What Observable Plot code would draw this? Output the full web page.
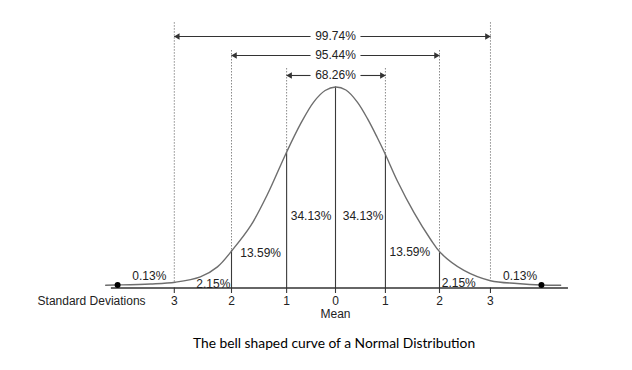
<!DOCTYPE html>
<html><head><meta charset="utf-8">
<script src="https://cdn.jsdelivr.net/npm/d3@7"></script>
<script src="https://cdn.jsdelivr.net/npm/@observablehq/plot@0.6"></script>
<style>
body{margin:0;background:#fff;}
#caption{font-family:Lato, "Open Sans", sans-serif;font-size:13.8px;color:#000;padding-left:193px;height:36px;line-height:36px;white-space:nowrap;}
</style></head><body><div id="chart"></div><div id="caption">The bell shaped curve of a Normal Distribution</div>
<script>
// Bell curve (x in standard deviations, y as density)
const curveX = [-4.42, -4.19, -3.56, -3.08, -2.60, -2.27, -1.99, -1.63, -1.31, -0.95, -0.67, -0.42, -0.20, 0, 0.20, 0.42, 0.62, 0.80, 0.96, 1.19, 1.51, 1.83, 2.02, 2.47, 2.98, 3.49, 3.96, 4.33];
const curveY = [0.0056, 0.006, 0.008, 0.0115, 0.022, 0.042, 0.0746, 0.124, 0.186, 0.2683, 0.327, 0.370, 0.393, 0.40, 0.394, 0.370, 0.336, 0.300, 0.2657, 0.213, 0.150, 0.0965, 0.070, 0.035, 0.0145, 0.009, 0.006, 0.0056];

// Standard deviation marks (as drawn) and their labels
const sdLabels = ["3", "2", "1", "0", "1", "2", "3"];
const sdPos = [-3.1, -2, -0.94, 0, 0.96, 2, 2.98];
const sdCurveY = [0.0115, 0.0746, 0.2683, 0.40, 0.2657, 0.070, 0.0145];

// Cumulative ranges
const rangeLabels = ["68.26%", "95.44%", "99.74%"];
const rangeSd = [1, 2, 3];

// Area percentages per band
const pctLabels = ["0.13%", "2.15%", "13.59%", "34.13%", "34.13%", "13.59%", "2.15%", "0.13%"];
const pctX = [-3.58, -2.35, -1.44, -0.47, 0.53, 1.43, 2.37, 3.55];
const pctY = [0.0235, 0.0084, 0.070, 0.142, 0.142, 0.0706, 0.0103, 0.0235];

// Tail end points and axis extent
const tailDotX = [-4.19, 3.96];
const tailDotY = [0.006, 0.006];
const axisExtent = [-4.31, 4.48];
const axisTitle = "Standard Deviations";
const axisTitleX = -5.73;
const meanLabel = "Mean";

const curve = curveX.map((x, i) => ({x, y: curveY[i]}));
const sds = sdPos.map((x, i) => ({x, label: sdLabels[i], top: sdCurveY[i], k: Math.abs(i - 3)}));
const dottedTop = {1: 0.4368, 2: 0.4726, 3: 0.528};
const arrowY = {1: 0.4229, 2: 0.4627, 3: 0.5005};
const gap = 0.48;
const ranges = rangeSd.map((k, i) => ({label: rangeLabels[i], y: arrowY[k], left: sdPos[3 - k], right: sdPos[3 + k]}));
const segs = ranges.flatMap(r => [{x1: -gap, x2: r.left, y: r.y}, {x1: gap, x2: r.right, y: r.y}]);
const pcts = pctLabels.map((t, i) => ({t, x: pctX[i], y: pctY[i]}));
const dots = tailDotX.map((x, i) => ({x, y: tailDotY[i]}));
const tickLen = -0.011;
const font = "Liberation Sans, Arial, sans-serif";
const ink = "#222";

const chart = Plot.plot({
  width: 632, height: 325,
  x: {domain: [-3, 3], range: [179, 491], axis: null},
  y: {domain: [0, 0.4], range: [287.5, 86.5], axis: null},
  style: {fontFamily: font, background: "#fff"},
  marks: [
    Plot.ruleX(sds.filter(d => d.k > 0), {x: "x", y1: d => dottedTop[d.k], y2: "top", stroke: "#8a8a8a", strokeWidth: 1, strokeDasharray: "1.5,1.5"}),
    Plot.ruleX(sds.filter(d => d.k < 3), {x: "x", y1: "top", y2: tickLen, stroke: "#3a3a3a", strokeWidth: 1.1}),
    Plot.ruleX(sds.filter(d => d.k === 3), {x: "x", y1: 0, y2: tickLen, stroke: "#3a3a3a", strokeWidth: 1.1}),
    Plot.ruleY([0], {x1: axisExtent[0], x2: axisExtent[1], stroke: "#333", strokeWidth: 1.6}),
    Plot.line(curve, {x: "x", y: "y", curve: "catmull-rom", stroke: "#6e6e6e", strokeWidth: 1.4}),
    Plot.dot(dots, {x: "x", y: "y", r: 3, fill: "#000"}),
    Plot.link(segs, {x1: "x1", x2: "x2", y1: "y", y2: "y", stroke: "#333", strokeWidth: 1.1}),
    Plot.dot(ranges, {x: "left", y: "y", symbol: "triangle", r: 2.4, fill: "#333", rotate: -90, dx: 3.4}),
    Plot.dot(ranges, {x: "right", y: "y", symbol: "triangle", r: 2.4, fill: "#333", rotate: 90, dx: -3.4}),
    Plot.text(ranges, {x: 0, y: "y", text: "label", fontSize: 12, fill: ink}),
    Plot.text(pcts, {x: "x", y: "y", text: "t", fontSize: 12, fill: ink}),
    Plot.text(sds, {x: "x", y: 0, text: "label", dy: 13.5, fontSize: 12, fill: ink}),
    Plot.text([meanLabel], {x: sdPos[3], y: 0, text: d => d, dy: 26.5, fontSize: 12, fill: ink}),
    Plot.text([axisTitle], {x: axisTitleX, y: 0, text: d => d, dy: 13.5, textAnchor: "start", fontSize: 12, fill: ink})
  ]
});
document.getElementById("chart").appendChild(chart);
</script></body></html>
